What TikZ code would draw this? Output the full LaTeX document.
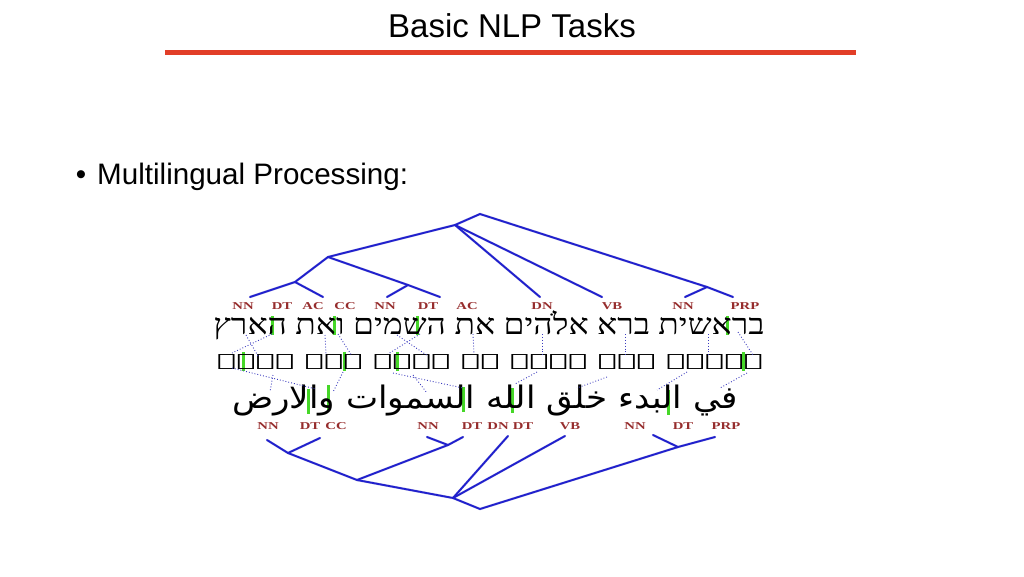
\documentclass[tikz,border=0pt]{standalone}
\usepackage{graphicx}
\usepackage{fontspec}
\setmainfont{Liberation Sans}
\newfontfamily\hebfont[Script=Hebrew]{Liberation Serif}
\newfontfamily\arabicfont[Script=Arabic]{DejaVu Sans}
\newfontfamily\tagfont{Liberation Serif}
\newfontfamily\syrfont{DejaVu Sans}
\TeXXeTstate=1
\definecolor{titlered}{RGB}{226,62,40}
\definecolor{treeblue}{RGB}{32,32,205}
\definecolor{shadowblue}{RGB}{185,185,230}
\definecolor{dotblue}{RGB}{60,60,190}
\definecolor{markgreen}{RGB}{70,215,40}
\definecolor{tagred}{RGB}{150,45,45}
\newcommand\tagtext[1]{\scalebox{1.4}[1]{#1}}
\begin{document}
\begin{tikzpicture}[x=1pt,y=-1pt,
  branch/.style={draw=treeblue,line width=1.8pt,line join=round,line cap=round},
  branchshadow/.style={draw=shadowblue,line width=2.4pt,line cap=round,shift={(1.5,1.5)}},
  alignline/.style={draw=dotblue,dotted,line width=0.9pt},
  greenmark/.style={fill=markgreen,draw=none},
  tagbox/.style={font=\tagfont\bfseries\fontsize{10.5}{10.5}\selectfont,text=tagred,inner sep=0pt,anchor=center},
  txtline/.style={inner sep=0pt,anchor=base}]
\useasboundingbox (0,0) rectangle (1024,576);
% title
\node[inner sep=0pt,anchor=base,font=\fontsize{33}{33}\selectfont] (title) at (512,37) {Basic NLP Tasks};
\draw[titlered,line width=4.5pt] (165,52.5) -- (856,52.5);
% bullet
\node[inner sep=0pt,anchor=base,font=\fontsize{29.6}{29.6}\selectfont] (bul) at (81,184) {•};
\node[inner sep=0pt,anchor=base west,font=\fontsize{29.6}{29.6}\selectfont] (bullettext) at (97,184) {Multilingual Processing:};
% green marks (behind text)
\foreach \x in {272,334,417,727}{\fill[greenmark] (\x-1.5,316) rectangle (\x+1.5,335);}
\foreach \x in {243,344,397,743}{\fill[greenmark] (\x-1.5,352) rectangle (\x+1.5,371);}
\foreach \x/\t in {308/389,328/385,463/387,512/388,668/390}{\fill[greenmark] (\x-1.5,\t) rectangle (\x+1.5,\t+25);}
% texts
\node[txtline,font=\hebfont\fontsize{29}{29}\selectfont] (heb) at (489,334) {\scalebox{1.16}[1]{\beginR בראשית ברא אלֹהים את השמים ואת הארץ\endR}};
\node[txtline,font=\syrfont\fontsize{17}{17}\selectfont] (syr) at (490,366) {\scalebox{1.9}[1]{\beginR ܒܪܫܝܬ ܒܪܐ ܐܠܗܐ ܝܬ ܫܡܝܐ ܘܝܬ ܐܪܥܐ\endR}};
\node[txtline,font=\arabicfont\fontsize{31}{31}\selectfont] (arb) at (485,408) {\scalebox{1.1}[1]{\beginR في البدء خلق الله السموات والارض\endR}};
% tags top
\foreach \x/\t/\n in {243/NN/a1,282/DT/a2,313/AC/a3,345/CC/a4,385/NN/a5,428/DT/a6,467/AC/a7,542/DN/a8,612/VB/a9,683/NN/a10,745/PRP/a11}{
  \node[tagbox] (tag\n) at (\x,306) {\tagtext{\t}};}
% tags bottom
\foreach \x/\t/\n in {268/NN/b1,310/DT/b2,336/CC/b3,428/NN/b4,472/DT/b5,498/DN/b6,523/DT/b7,570/VB/b8,635/NN/b9,683/DT/b10,726/PRP/b11}{
  \node[tagbox] (tag\n) at (\x,426) {\tagtext{\t}};}
% top tree coordinates
\coordinate (t1) at (250,297); \coordinate (t2) at (323,297);
\coordinate (t3) at (387,297); \coordinate (t4) at (440,297);
\coordinate (t5) at (540,297); \coordinate (t6) at (602,297);
\coordinate (t7) at (685,297); \coordinate (t8) at (733,297);
\coordinate (nA) at (295,282); \coordinate (nB) at (328,257);
\coordinate (nC) at (408,285); \coordinate (nD) at (455,225);
\coordinate (nE) at (480,214); \coordinate (nK) at (707,287);
% bottom tree coordinates
\coordinate (u1) at (267,440); \coordinate (u2) at (320,438);
\coordinate (u3) at (427,437); \coordinate (u4) at (463,437);
\coordinate (u5) at (508,436); \coordinate (u6) at (565,436);
\coordinate (u7) at (653,435); \coordinate (u8) at (715,437);
\coordinate (nF) at (288,453); \coordinate (nG) at (357,480);
\coordinate (nH) at (448,445); \coordinate (nI) at (453,498);
\coordinate (nJ) at (480,509); \coordinate (nL) at (678,447);
\foreach \s in {branchshadow,branch}{
  \path[\s] (t1) -- (nA) -- (nB) -- (nD) -- (nE) -- (nK) -- (t8);
  \path[\s] (nA) -- (t2);
  \path[\s] (nB) -- (nC) -- (t4);
  \path[\s] (t3) -- (nC);
  \path[\s] (nD) -- (t5);
  \path[\s] (nD) -- (t6);
  \path[\s] (t7) -- (nK);
  \path[\s] (u1) -- (nF) -- (nG) -- (nI) -- (nJ) -- (nL) -- (u8);
  \path[\s] (u2) -- (nF);
  \path[\s] (nG) -- (nH) -- (u4);
  \path[\s] (u3) -- (nH);
  \path[\s] (nI) -- (u5);
  \path[\s] (nI) -- (u6);
  \path[\s] (u7) -- (nL);
}
% alignment dotted lines Hebrew-Syriac
\coordinate (h1) at (272,334); \coordinate (s1) at (232,353);
\coordinate (h2) at (246,335); \coordinate (s2) at (258,356);
\coordinate (h3) at (325,335); \coordinate (s3) at (326,354);
\coordinate (h4) at (338,334); \coordinate (s4) at (352,356);
\coordinate (h5) at (420,334); \coordinate (s5) at (388,354);
\coordinate (h6) at (397,335); \coordinate (s6) at (428,356);
\coordinate (h7) at (473,334); \coordinate (s7) at (474,354);
\coordinate (h8) at (542,334); \coordinate (s8) at (542,355);
\coordinate (h9) at (625,334); \coordinate (s9) at (625,355);
\coordinate (h10) at (708,334); \coordinate (s10) at (708,355);
\coordinate (h11) at (738,332); \coordinate (s11) at (753,355);
\foreach \i in {1,...,11}{\draw[alignline] (h\i) -- (s\i);}
% alignment dotted lines Syriac-Arabic
\coordinate (p1) at (232,368); \coordinate (q1) at (316,389);
\coordinate (p2) at (273,375); \coordinate (q2) at (270,392);
\coordinate (p3) at (343,372); \coordinate (q3) at (333,392);
\coordinate (p4) at (393,373); \coordinate (q4) at (463,388);
\coordinate (p5) at (413,375); \coordinate (q5) at (427,393);
\coordinate (p6) at (537,372); \coordinate (q6) at (515,384);
\coordinate (p7) at (607,377); \coordinate (q7) at (577,388);
\coordinate (p8) at (687,372); \coordinate (q8) at (657,390);
\coordinate (p9) at (747,373); \coordinate (q9) at (720,388);
\foreach \i in {1,...,9}{\draw[alignline] (p\i) -- (q\i);}
\end{tikzpicture}
\end{document}
